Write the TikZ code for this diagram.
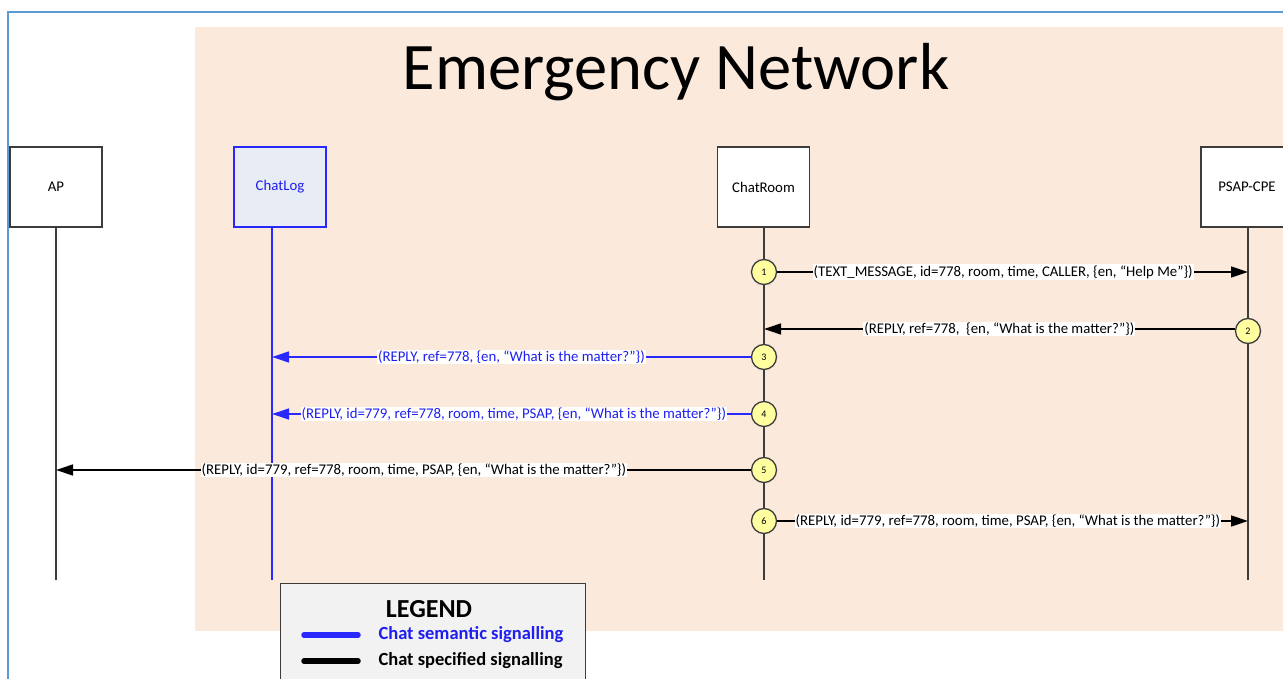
\documentclass[tikz,border=0pt]{standalone}
\usepackage{fontspec}
\setmainfont{Carlito}
\usetikzlibrary{arrows.meta}
\definecolor{peach}{RGB}{251,233,220}
\definecolor{frameblue}{RGB}{91,155,213}
\definecolor{lineblue}{RGB}{40,40,255}
\definecolor{txtblue}{RGB}{30,30,240}
\definecolor{loglifefill}{RGB}{232,236,244}
\definecolor{darkline}{RGB}{60,60,60}
\definecolor{stepyellow}{RGB}{255,255,160}
\definecolor{legendfill}{RGB}{242,242,242}
\tikzset{
  head/.style={draw=darkline, line width=1.4pt, fill=white, minimum width=92pt, minimum height=80pt, font=\fontsize{14.8}{17}\selectfont, inner sep=0pt},
  loghead/.style={head, draw=lineblue, fill=loglifefill, text=txtblue},
  life/.style={darkline, line width=1.4pt},
  loglife/.style={lineblue, line width=1.4pt},
  stepdot/.style={circle, draw=darkline, line width=1.3pt, fill=stepyellow, minimum size=25pt, inner sep=0pt, font=\fontsize{10}{11}\selectfont},
  msg/.style={line width=1.3pt, black, -{Triangle[length=17pt, width=11pt]}},
  msgblue/.style={msg, lineblue},
  msglabel/.style={fill=white, inner sep=1pt, font=\fontsize{14.8}{17}\selectfont},
}
\begin{document}
\begin{tikzpicture}[x=1pt, y=-1pt]
\useasboundingbox (0,0) rectangle (1283,679);
% background: page, network area and outer frame
\fill[white] (0,0) rectangle (1283,679);
\fill[peach] (195,27) rectangle (1290,631);
\draw[frameblue, line width=2pt] (8,690) -- (8,12) -- (1290,12);
\node[font=\fontsize{66.5}{72}\selectfont] (title) at (676,72) {Emergency Network};

% lifeline heads
\node[head] (ap) at (56,187) {AP};
\node[loghead] (log) at (280,187) {ChatLog};
\node[head] (room) at (763.5,187) {ChatRoom};
\node[head] (psap) at (1247,187) {PSAP-CPE};

% lifeline ends
\coordinate (apend) at (56,580);
\coordinate (logend) at (272,580);
\coordinate (roomend) at (764,580);
\coordinate (psapend) at (1248,580);

\draw[life] (ap.south) -- (apend);
\draw[loglife] (log.south -| logend) -- (logend);
\draw[life] (room.south -| roomend) -- (roomend);
\draw[life] (psap.south -| psapend) -- (psapend);

% numbered steps
\node[stepdot] (s1) at (764,272) {1};
\node[stepdot] (s2) at (1248,331) {2};
\node[stepdot] (s3) at (764,357) {3};
\node[stepdot] (s4) at (764,414) {4};
\node[stepdot] (s5) at (764,470) {5};
\node[stepdot] (s6) at (764,521) {6};

% message targets on lifelines
\coordinate (t1) at (1248,272);
\coordinate (t2) at (764,329);
\coordinate (t3) at (272,357);
\coordinate (t4) at (272,414);
\coordinate (t5) at (56,470);
\coordinate (t6) at (1248,521);

\draw[msg] (s1) -- (t1) node[msglabel, pos=0.48] (l1) {(TEXT\_MESSAGE, id=778, room, time, CALLER, \{en, “Help Me”\})};
\draw[msg] (s2.west |- t2) -- (t2) node[msglabel, pos=0.5] (l2) {(REPLY, ref=778,\ \ \{en, “What is the matter?”\})};
\draw[msgblue] (s3) -- (t3) node[msglabel, pos=0.5, text=txtblue] (l3) {(REPLY, ref=778, \{en, “What is the matter?”\})};
\draw[msgblue] (s4) -- (t4) node[msglabel, pos=0.495, text=txtblue] (l4) {(REPLY, id=779, ref=778, room, time, PSAP, \{en, “What is the matter?”\})};
\draw[msg] (s5) -- (t5) node[msglabel, pos=0.485] (l5) {(REPLY, id=779, ref=778, room, time, PSAP, \{en, “What is the matter?”\})};
\draw[msg] (s6) -- (t6) node[msglabel, pos=0.49] (l6) {(REPLY, id=779, ref=778, room, time, PSAP, \{en, “What is the matter?”\})};

% legend
\node[draw=darkline, line width=1.4pt, fill=legendfill, minimum width=305pt, minimum height=110pt, anchor=north west] (legend) at (280,583) {};
\node[font=\fontsize{26}{30}\selectfont\bfseries] (legtitle) at (429,609) {LEGEND};
\coordinate (lb1) at (304,635);
\coordinate (lb2) at (358,635);
\coordinate (lk1) at (304,661);
\coordinate (lk2) at (358,661);
\draw[lineblue, line width=5.5pt, line cap=round] (lb1) -- (lb2);
\draw[black, line width=5.5pt, line cap=round] (lk1) -- (lk2);
\node[anchor=west, text=txtblue, font=\fontsize{18.5}{21}\selectfont\bfseries] (legsem) at (375,635) {Chat semantic signalling};
\node[anchor=west, font=\fontsize{18.5}{21}\selectfont\bfseries] (legspec) at (375,661) {Chat specified signalling};
\end{tikzpicture}
\end{document}
